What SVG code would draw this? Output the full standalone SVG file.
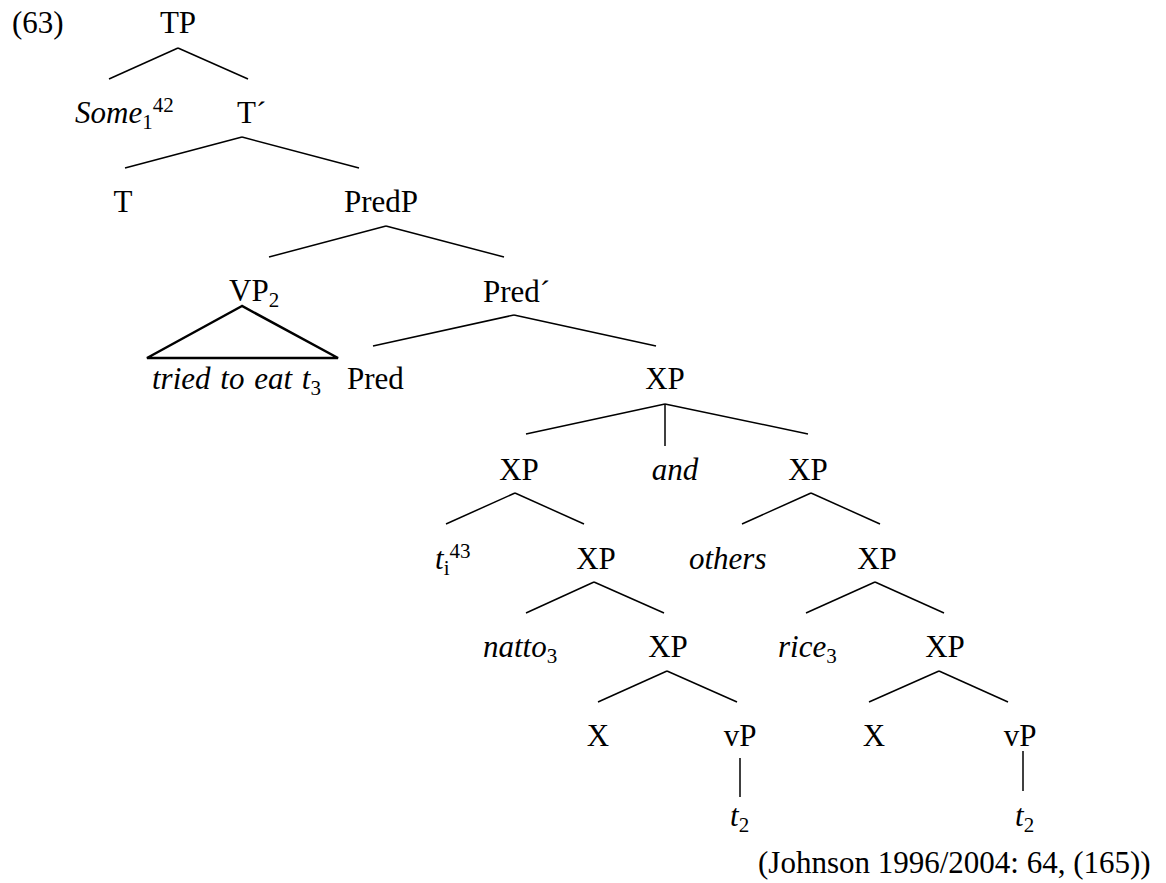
<svg xmlns="http://www.w3.org/2000/svg" width="1166" height="883" viewBox="0 0 1166 883">
<style>
text{font-family:"Liberation Serif","Times New Roman",serif;font-size:31px;fill:#000}
.c{text-anchor:middle}
.i{font-style:italic}
.s{font-size:21px;font-style:normal}
#edges line{stroke:#000;stroke-width:1.5;stroke-linecap:butt}
#tri{fill:none;stroke:#000;stroke-width:2.5;stroke-linejoin:miter}
</style>
<rect width="1166" height="883" fill="#fff"/>
<g id="edges">
<line x1="178" y1="48" x2="109" y2="79"/>
<line x1="178" y1="48" x2="248" y2="79"/>
<line x1="242" y1="137" x2="125" y2="168"/>
<line x1="242" y1="137" x2="359" y2="168"/>
<line x1="386" y1="226" x2="269" y2="257"/>
<line x1="386" y1="226" x2="504" y2="257"/>
<line x1="514" y1="315" x2="373" y2="346"/>
<line x1="514" y1="315" x2="656" y2="346"/>
<line x1="665" y1="404" x2="526" y2="434"/>
<line x1="665" y1="404" x2="665" y2="446"/>
<line x1="665" y1="404" x2="808" y2="434"/>
<line x1="515" y1="493" x2="446" y2="524"/>
<line x1="515" y1="493" x2="584" y2="524"/>
<line x1="811" y1="493" x2="742" y2="524"/>
<line x1="811" y1="493" x2="880" y2="524"/>
<line x1="594" y1="582" x2="526" y2="613"/>
<line x1="594" y1="582" x2="664" y2="613"/>
<line x1="875" y1="582" x2="806" y2="613"/>
<line x1="875" y1="582" x2="944" y2="613"/>
<line x1="667" y1="671" x2="598" y2="702"/>
<line x1="667" y1="671" x2="737" y2="702"/>
<line x1="939" y1="671" x2="869" y2="702"/>
<line x1="939" y1="671" x2="1008" y2="702"/>
<line x1="740" y1="758" x2="740" y2="797"/>
<line x1="1023" y1="751" x2="1023" y2="791"/>
</g>
<g id="ex"><text x="12" y="33">(63)</text></g>
<g id="TP"><text class="c" x="178" y="33">TP</text></g>
<g id="some"><text x="75" y="123"><tspan class="i">Some</tspan><tspan class="s" dy="6">1</tspan><tspan class="s" dy="-17">42</tspan></text></g>
<g id="Tbar"><text x="237" y="123">T´</text></g>
<g id="T"><text class="c" x="123" y="212">T</text></g>
<g id="PredP"><text class="c" x="381" y="212">PredP</text></g>
<g id="VP2"><text x="229" y="301">VP<tspan class="s" dy="6">2</tspan></text></g>
<g id="triangle"><polygon id="tri" points="242,306 147,358 338,358"/><text x="152" y="389" word-spacing="2"><tspan class="i">tried to eat t</tspan><tspan class="s" dy="6">3</tspan></text></g>
<g id="Predbar"><text x="483" y="302">Pred´</text></g>
<g id="Pred"><text x="347" y="389">Pred</text></g>
<g id="XP0"><text class="c" x="665" y="389">XP</text></g>
<g id="XP1"><text class="c" x="519" y="480">XP</text></g>
<g id="and"><text class="c i" x="675" y="480">and</text></g>
<g id="XP2"><text class="c" x="808" y="480">XP</text></g>
<g id="t1"><text x="435" y="569"><tspan class="i">t</tspan><tspan class="s" dy="6">i</tspan><tspan class="s" dy="-17">43</tspan></text></g>
<g id="XP3"><text class="c" x="596" y="569">XP</text></g>
<g id="others"><text x="689" y="569" class="i">others</text></g>
<g id="XP4"><text class="c" x="877" y="569">XP</text></g>
<g id="natto"><text x="483" y="657"><tspan class="i">natto</tspan><tspan class="s" dy="6">3</tspan></text></g>
<g id="XP5"><text class="c" x="668" y="657">XP</text></g>
<g id="rice"><text x="778" y="657"><tspan class="i">rice</tspan><tspan class="s" dy="6">3</tspan></text></g>
<g id="XP6"><text class="c" x="945" y="657">XP</text></g>
<g id="X1"><text class="c" x="598" y="746">X</text></g>
<g id="vP1"><text class="c" x="740" y="746">vP</text></g>
<g id="X2"><text class="c" x="874" y="746">X</text></g>
<g id="vP2"><text class="c" x="1020" y="746">vP</text></g>
<g id="t2a"><text x="730" y="826"><tspan class="i">t</tspan><tspan class="s" dy="6">2</tspan></text></g>
<g id="t2b"><text x="1015" y="826"><tspan class="i">t</tspan><tspan class="s" dy="6">2</tspan></text></g>
<g id="cite"><text x="758" y="873">(Johnson 1996/2004: 64, (165))</text></g>
</svg>
